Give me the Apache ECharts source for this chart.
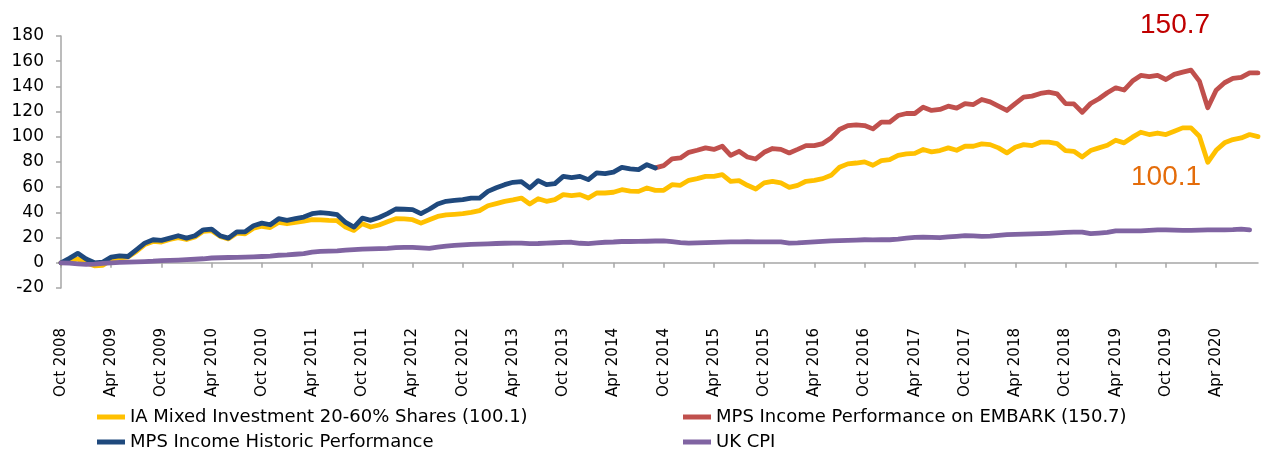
<!DOCTYPE html>
<html>
<head>
<meta charset="utf-8">
<script src="https://cdn.jsdelivr.net/npm/echarts@6/dist/echarts.min.js"></script>
<style>
html,body{margin:0;padding:0;background:#fff;}
#chart{width:1265px;height:453px;}
</style>
</head>
<body>
<div id="chart"></div>
<script>
// ---- DATA ----
const monthNames = ['Jan','Feb','Mar','Apr','May','Jun','Jul','Aug','Sep','Oct','Nov','Dec'];
const startYear = 2008, startMonthIndex = 9, monthCount = 144; // Oct 2008 .. Sep 2020
const categories = [];
for (let i = 0; i < monthCount; i++) {
  const m = (startMonthIndex + i) % 12;
  const y = startYear + Math.floor((startMonthIndex + i) / 12);
  categories.push(monthNames[m] + ' ' + y);
}

const seriesNames = [
  'IA Mixed Investment 20-60% Shares (100.1)',
  'MPS Income Performance on EMBARK (150.7)',
  'MPS Income Historic Performance',
  'UK CPI'
];

const iaMixed = [
  0, 1.5, 3, 0, -2.4, -2, 2.5, 4, 4.5, 9,
  14.5, 17, 16.5, 18.5, 20, 18.5, 20.5, 25, 25.5, 21,
  19, 23.5, 23, 27.5, 29, 28, 32, 31, 32, 33,
  34.2, 34, 33.6, 33.4, 28.4, 25.7, 31, 28.4, 30, 32.5,
  35, 34.8, 34.2, 31.5, 34.2, 36.8, 38, 38.5, 39, 40,
  41.4, 45.3, 47, 48.8, 50, 51.4, 46.7, 50.9, 48.8, 50.1,
  54.1, 53.3, 54.1, 51.4, 55.4, 55.4, 56, 58, 56.9, 56.7,
  59.4, 57.5, 57.5, 62, 61.5, 65.5, 66.8, 68.6, 68.6, 70,
  64.7, 65.2, 61.5, 58.6, 63.4, 64.7, 63.4, 59.9, 61.5, 64.7,
  65.5, 66.8, 69.4, 75.8, 78.5, 79.2, 80.1, 77.4, 81.1, 81.9,
  85.3, 86.4, 86.8, 89.9, 88, 89.1, 91.2, 89.3, 92.5, 92.5,
  94.4, 93.8, 91.2, 87.2, 91.7, 93.8, 93, 95.7, 95.7, 94.6,
  89.1, 88.5, 84, 89.1, 91.2, 93.3, 97.3, 95.2, 99.7, 103.6,
  101.8, 103, 101.8, 104.4, 107.1, 107.1, 100.4, 79.8, 89.3, 95.2,
  97.8, 99.1, 101.8, 100.1
];

const embarkStart = 71;
const mpsEmbark = [
  75.3, 77.1, 82.4, 83.2, 87.7, 89.3, 91.2, 90, 92.5,
  85.3, 88.5, 84, 82.4, 87.7, 90.7, 90, 87.2, 90, 93,
  93, 94.6, 99.1, 105.8, 108.9, 109.5, 108.9, 106.3, 111.6, 111.6,
  116.9, 118.5, 118.5, 123.5, 120.9, 121.7, 124.3, 122.7, 126.4, 125.6,
  129.6, 127.7, 124.3, 120.9, 126.4, 131.5, 132.3, 134.4, 135.4, 134.1,
  126.4, 126.1, 119.5, 126.4, 130.2, 135, 138.9, 137.1, 144.2, 148.7,
  147.7, 148.7, 145.5, 149.5, 151.3, 152.9, 144.2, 123, 137, 142.9,
  146.3, 147.1, 150.8, 150.7
];

const mpsHistoric = [
  0, 3.5, 7.5, 3, 0, 0.5, 4.5, 5.5, 5, 10.3,
  15.6, 18.3, 17.8, 19.6, 21.5, 19.6, 21.5, 26.2, 26.8, 21.5,
  19.6, 24.6, 24.6, 29.4, 31.5, 30.2, 35, 33.7, 35, 36.3,
  39, 39.8, 39.3, 38.2, 32, 28.4, 35.5, 33.7, 36, 39,
  42.7, 42.5, 42.2, 39, 42.5, 46.7, 48.8, 49.5, 50.1, 51.4,
  51.4, 56.7, 59.5, 62, 63.9, 64.4, 59.4, 65.2, 62, 62.8,
  68.6, 67.6, 68.6, 66, 71.3, 70.8, 72, 75.8, 74.5, 74,
  77.9, 75.3
];

const ukCpi = [
  0, -0.3, -0.8, -1.2, -1, -0.5, 0, 0.3, 0.5, 0.8,
  1, 1.3, 1.8, 2, 2.2, 2.5, 2.8, 3.2, 3.8, 4,
  4.2, 4.3, 4.5, 4.7, 5, 5.3, 6, 6.3, 6.8, 7.3,
  8.5, 9, 9.2, 9.5, 10, 10.5, 10.9, 11, 11.2, 11.5,
  12, 12.2, 12.2, 11.8, 11.5, 12.5, 13.3, 13.8, 14.3, 14.6,
  14.8, 15, 15.3, 15.5, 15.6, 15.6, 15.2, 15.3, 15.6, 15.9,
  16.2, 16.3, 15.5, 15.2, 15.8, 16.3, 16.5, 16.9, 16.9, 17,
  17.1, 17.3, 17.4, 16.8, 16, 15.6, 15.8, 16, 16.2, 16.4,
  16.6, 16.6, 16.7, 16.6, 16.6, 16.6, 16.6, 15.6, 15.8, 16.2,
  16.6, 17, 17.4, 17.6, 17.8, 18, 18.3, 18.2, 18.3, 18.3,
  18.8, 19.5, 20.2, 20.4, 20.2, 19.9, 20.5, 21, 21.5, 21.3,
  21, 21.2, 21.8, 22.3, 22.5, 22.7, 22.9, 23.1, 23.4, 23.8,
  24.2, 24.4, 24.4, 23.1, 23.6, 24.2, 25.4, 25.4, 25.4, 25.4,
  25.8, 26.2, 26.2, 26, 25.8, 25.7, 26, 26.2, 26.2, 26.2,
  26.4, 26.8, 26.2
];

const yTicks = { min: -20, max: 180, interval: 20 };
const annotationEmbark = '150.7';
const annotationIA = '100.1';

// ---- CHART ----
const colors = ['#FFC000', '#C0504D', '#1F497D', '#8064A2'];
const FONT = 'DejaVu Sans';
const embarkData = new Array(embarkStart).fill(null).concat(mpsEmbark);

const chart = echarts.init(document.getElementById('chart'), null, { renderer: 'canvas' });

function legendAt(name, left, top) {
  return {
    data: [name], left: left, top: top, icon: 'rect', padding: 0,
    itemWidth: 28, itemHeight: 5, itemGap: 0,
    textStyle: { fontFamily: FONT, fontSize: 18, color: '#000' }
  };
}

const lineSeries = (name, data, color) => ({
  name: name, type: 'line', data: data, showSymbol: false, symbol: 'none',
  connectNulls: false, smooth: false,
  lineStyle: { color: color, width: 4.8, cap: 'round', join: 'round' },
  itemStyle: { color: color },
  emphasis: { disabled: true }
});

chart.setOption({
  animation: false,
  backgroundColor: '#fff',
  grid: { left: 61, right: 7, top: 36, bottom: 165, containLabel: false },
  legend: [
    legendAt(seriesNames[0], 97, 408),
    legendAt(seriesNames[1], 683, 408),
    legendAt(seriesNames[2], 97, 433),
    legendAt(seriesNames[3], 683, 433)
  ],
  xAxis: {
    type: 'category', data: categories, boundaryGap: false,
    axisLine: { onZero: true, lineStyle: { color: '#A6A6A6', width: 1.5 } },
    axisTick: { show: true, interval: 5, length: 5, inside: false, lineStyle: { color: '#A6A6A6', width: 1.5 } },
    axisLabel: { interval: 5, rotate: 90, margin: 40, fontFamily: FONT, fontSize: 15, color: '#000' },
    splitLine: { show: false }
  },
  yAxis: {
    type: 'value', min: yTicks.min, max: yTicks.max, interval: yTicks.interval,
    axisLine: { show: true, lineStyle: { color: '#A6A6A6', width: 1.5 } },
    axisTick: { show: true, length: 5, lineStyle: { color: '#A6A6A6', width: 1.5 } },
    axisLabel: { margin: 17, fontFamily: FONT, fontSize: 17, color: '#000' },
    splitLine: { show: false }
  },
  graphic: [
    { type: 'text', left: 1140, top: 11, style: { text: annotationEmbark, fontFamily: 'Liberation Sans', fontSize: 28, fill: '#C00000' } },
    { type: 'text', left: 1131, top: 163, style: { text: annotationIA, fontFamily: 'Liberation Sans', fontSize: 28, fill: '#E46C0A' } }
  ],
  series: [
    lineSeries(seriesNames[0], iaMixed, colors[0]),
    lineSeries(seriesNames[1], embarkData, colors[1]),
    lineSeries(seriesNames[2], mpsHistoric, colors[2]),
    lineSeries(seriesNames[3], ukCpi, colors[3])
  ]
});
</script>
</body>
</html>
